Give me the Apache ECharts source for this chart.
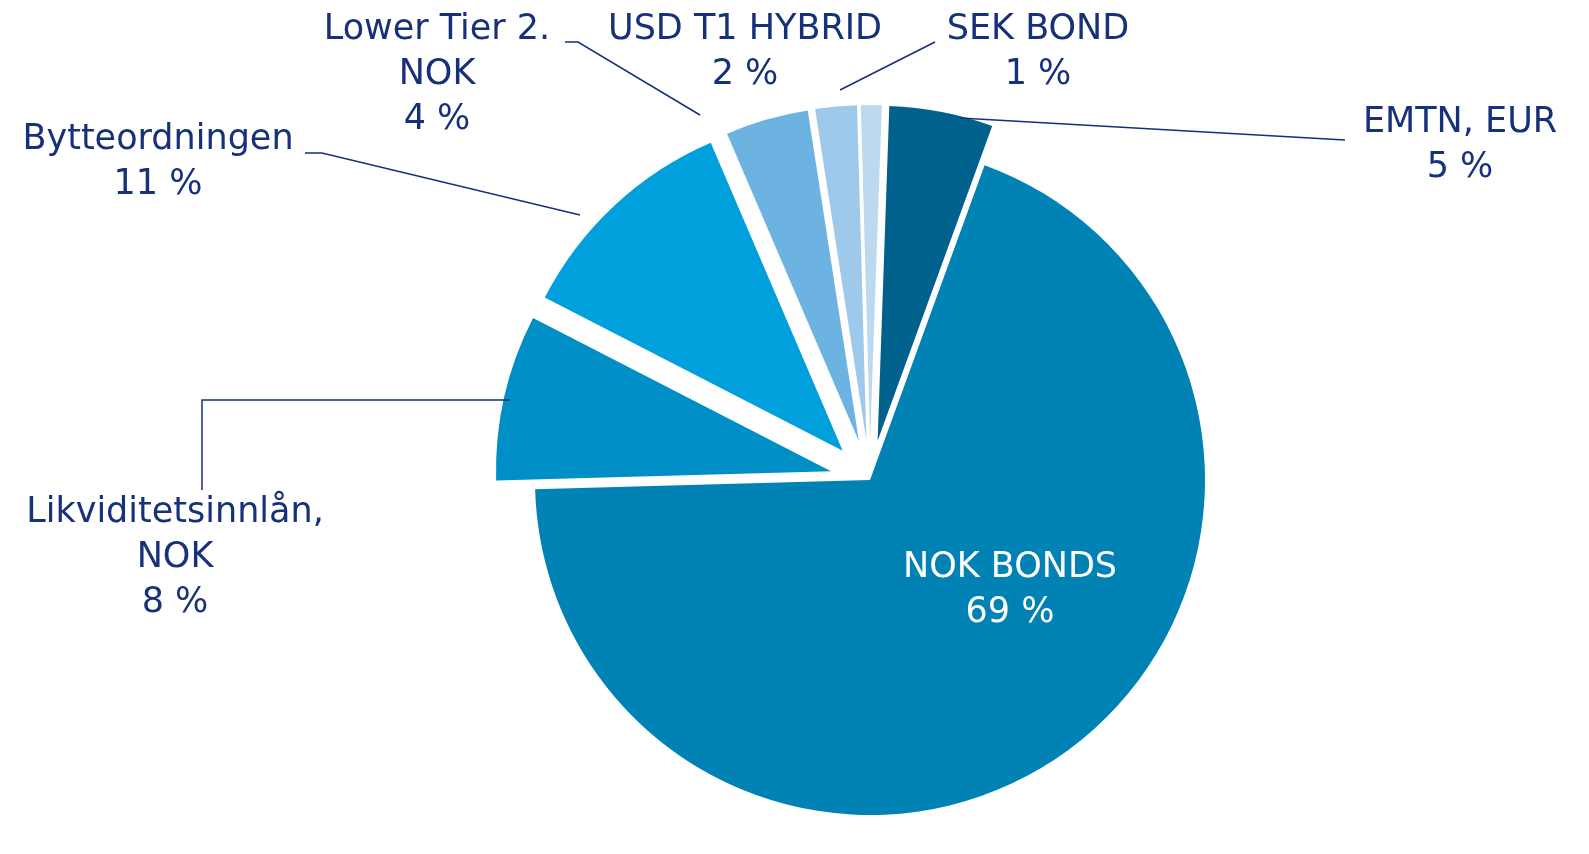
<!DOCTYPE html>
<html>
<head>
<meta charset="utf-8">
<script src="https://cdn.jsdelivr.net/npm/echarts@6/dist/echarts.min.js"></script>
<style>html,body{margin:0;padding:0;background:#fff}#chart{width:1589px;height:854px}</style>
</head>
<body>
<div id="chart"></div>
<script>
const categories = ["EMTN, EUR", "NOK BONDS", "Likviditetsinnlån,\nNOK", "Bytteordningen", "Lower Tier 2.\nNOK", "USD T1 HYBRID", "SEK BOND"];
const values = [5, 69, 8, 11, 4, 2, 1];
const colors = ["#00628c", "#0082b4", "#008ec6", "#00a0dc", "#6db3e1", "#9ec9ea", "#bcd9f0"];
// label spots (pixels), plus leader lines
const labelSpots = [[1460, 145], [1010, 590], [175, 558], [158, 162], [437, 75], [745, 52], [1038, 52]];
const leaders = [
  [[1345, 140], [960, 118]],
  null,
  [[202, 490], [202, 400], [510, 400]],
  [[305, 153], [322, 153], [580, 215]],
  [[565, 42], [578, 42], [700, 115]],
  null,
  [[935, 42], [840, 90]]
];

const chart = echarts.init(document.getElementById("chart"));

const data = categories.map((name, i) => ({
  name: name,
  value: values[i],
  selected: name !== "NOK BONDS",
  itemStyle: { color: colors[i] }
}));

const graphic = [];
categories.forEach((name, i) => {
  graphic.push({
    type: "text",
    x: labelSpots[i][0], y: labelSpots[i][1], zlevel: 1,
    style: {
      text: name + "\n" + values[i] + " %",
      fill: name === "NOK BONDS" ? "#fff" : "#16307a",
      font: "35px 'DejaVu Sans'",
      lineHeight: 45,
      align: "center",
      verticalAlign: "middle"
    }
  });
  if (leaders[i]) {
    graphic.push({
      type: "polyline", zlevel: 1,
      shape: { points: leaders[i] },
      style: { stroke: "#16307a", lineWidth: 1.5, fill: null }
    });
  }
});

chart.setOption({
  animation: false,
  graphic: graphic,
  series: [{
    type: "pie",
    center: [870, 480],
    radius: 335,
    startAngle: 88,
    selectedMode: "multiple",
    selectedOffset: 40,
    data: data,
    label: { show: false },
    labelLine: { show: false },
    itemStyle: { borderWidth: 0 }
  }]
});
</script>
</body>
</html>
